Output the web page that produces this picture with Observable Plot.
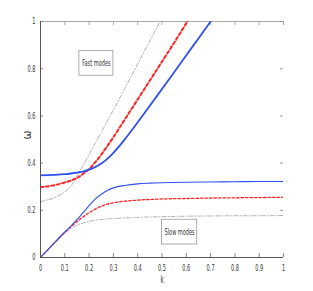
<!DOCTYPE html>
<html><head><meta charset="utf-8">
<script src="https://cdn.jsdelivr.net/npm/d3@7"></script>
<script src="https://cdn.jsdelivr.net/npm/@observablehq/plot@0.6"></script>
<style>html,body{margin:0;padding:0;background:#fff} svg{display:block}</style>
</head><body><div id="chart"></div>
<script>
// tick values
const xTicks = [0, 0.1, 0.2, 0.3, 0.4, 0.5, 0.6, 0.7, 0.8, 0.9, 1];
const yTicks = [0, 0.2, 0.4, 0.6, 0.8, 1];
const xLabel = "k";
const yLabel = "ω";

// fast modes
const kFast       = [0, 0.05, 0.1, 0.125, 0.15, 0.175, 0.2, 0.225, 0.25, 0.275, 0.3, 0.325, 0.35, 0.4, 0.45, 0.5, 0.55, 0.6, 0.65, 0.7];
const fastBlue    = [0.348, 0.350, 0.353, 0.356, 0.360, 0.364, 0.372, 0.383, 0.398, 0.418, 0.443, 0.473, 0.505, 0.573, 0.643, 0.714, 0.785, 0.857, 0.928, 1.0];
const kFastRed    = [0, 0.05, 0.1, 0.125, 0.15, 0.175, 0.2, 0.225, 0.25, 0.275, 0.3, 0.35, 0.4, 0.45, 0.5, 0.55, 0.6, 0.625];
const fastRed     = [0.298, 0.305, 0.318, 0.326, 0.337, 0.354, 0.375, 0.403, 0.436, 0.472, 0.510, 0.590, 0.670, 0.750, 0.830, 0.910, 0.993, 1.035];
const kFastGray   = [0, 0.025, 0.05, 0.075, 0.1, 0.125, 0.15, 0.175, 0.2, 0.225, 0.25, 0.275, 0.3, 0.35, 0.4, 0.45, 0.5];
const fastGray    = [0.237, 0.243, 0.250, 0.262, 0.278, 0.302, 0.345, 0.390, 0.437, 0.483, 0.530, 0.578, 0.625, 0.722, 0.820, 0.918, 1.016];

// slow modes
const kSlow       = [0, 0.05, 0.1, 0.125, 0.15, 0.175, 0.2, 0.225, 0.25, 0.275, 0.3, 0.35, 0.4, 0.45, 0.5, 0.6, 0.7, 0.8, 0.9, 1.0];
const slowBlue    = [0, 0.055, 0.108, 0.133, 0.160, 0.190, 0.220, 0.247, 0.268, 0.284, 0.295, 0.306, 0.312, 0.315, 0.317, 0.319, 0.320, 0.321, 0.322, 0.322];
const slowRed     = [0, 0.054, 0.106, 0.130, 0.152, 0.172, 0.190, 0.205, 0.217, 0.226, 0.232, 0.239, 0.243, 0.246, 0.248, 0.250, 0.252, 0.253, 0.254, 0.255];
const slowGray    = [0, 0.054, 0.104, 0.123, 0.137, 0.146, 0.153, 0.157, 0.161, 0.163, 0.165, 0.168, 0.170, 0.172, 0.173, 0.175, 0.176, 0.177, 0.177, 0.178];

// annotation labels
const notes = ["Fast modes", "Slow modes"];

function series(ks, ws) { return ks.map((k, i) => ({k, w: ws[i]})); }

const W = 313, H = 291, mL = 40, mR = 30, mT = 21, mB = 34;
const pw = W - mL - mR, ph = H - mT - mB;

// annotation box placement (in data units)
const boxes = [
  {label: notes[0], x1: 0.16, x2: 0.30, y1: 0.77, y2: 0.875},
  {label: notes[1], x1: 0.50, x2: 0.645, y1: 0.055, y2: 0.16}
];

const blue = "#3050f0", red = "#ff2424", gray = "#9a9a9a";
const curve = "monotone-x";

const chart = Plot.plot({
  width: W, height: H,
  marginLeft: mL, marginRight: mR, marginTop: mT, marginBottom: mB,
  style: {fontFamily: "'DejaVu Sans Condensed', 'Liberation Sans', sans-serif", fontSize: "9px", color: "#333", background: "#fff"},
  x: {domain: [0, 1]},
  y: {domain: [0, 1]},
  marks: [
    // frame top
    Plot.ruleY([yTicks[yTicks.length - 1]], {stroke: "#aaa"}),
    // ticks
    Plot.ruleX(xTicks, {stroke: "#888", insetTop: ph - 4}),
    Plot.ruleX(xTicks, {stroke: "#aaa", insetBottom: ph - 4}),
    Plot.ruleY(yTicks, {stroke: "#888", insetRight: pw - 3}),
    Plot.ruleY(yTicks, {stroke: "#999", insetLeft: pw - 3}),
    // curves
    Plot.line(series(kFastGray, fastGray), {x: "k", y: "w", curve, stroke: gray, strokeWidth: 0.8, strokeDasharray: "4,2,1,2", clip: true}),
    Plot.line(series(kSlow, slowGray), {x: "k", y: "w", curve, stroke: gray, strokeWidth: 0.8, strokeDasharray: "4,2,1,2", clip: true}),
    Plot.line(series(kFastRed, fastRed), {x: "k", y: "w", curve, stroke: red, strokeWidth: 2, strokeDasharray: "3,2.5", clip: true}),
    Plot.line(series(kSlow, slowRed), {x: "k", y: "w", curve, stroke: red, strokeWidth: 1.3, strokeDasharray: "2.5,2", clip: true}),
    Plot.line(series(kFast, fastBlue), {x: "k", y: "w", curve, stroke: blue, strokeWidth: 1.8, clip: true}),
    Plot.line(series(kSlow, slowBlue), {x: "k", y: "w", curve, stroke: blue, strokeWidth: 1.1, clip: true}),
    // axis lines
    Plot.ruleY([yTicks[0]], {stroke: "#555"}),
    Plot.ruleX([xTicks[0]], {stroke: "#555"}),
    // tick labels
    Plot.axisX({ticks: xTicks, tickSize: 0, tickPadding: 7, label: null, tickFormat: d3.format("")}),
    Plot.axisY({ticks: yTicks, tickSize: 0, tickPadding: 5, label: null, tickFormat: d3.format("")}),
    // axis labels
    Plot.text([xLabel], {frameAnchor: "bottom", dy: 25, text: d => d, fontSize: 10}),
    Plot.text([yLabel], {frameAnchor: "left", dx: -13, rotate: -90, text: d => d, fontSize: 12, className: "ylab"}),
    // annotation boxes
    Plot.rect(boxes, {x1: "x1", x2: "x2", y1: "y1", y2: "y2", fill: "#fff", stroke: "#999", strokeWidth: 0.8}),
    Plot.text(boxes, {x: d => (d.x1 + d.x2) / 2, y: d => (d.y1 + d.y2) / 2, text: "label", fontSize: 9})
  ]
});

document.getElementById("chart").appendChild(chart);

// condense text horizontally (the original uses a narrow face)
d3.select(chart).selectAll("text").each(function() {
  if (this.closest(".ylab")) return;
  const len = this.getComputedTextLength();
  if (len > 0) {
    this.setAttribute("textLength", (len * 0.62).toFixed(2));
    this.setAttribute("lengthAdjust", "spacingAndGlyphs");
  }
});
</script>
</body></html>
